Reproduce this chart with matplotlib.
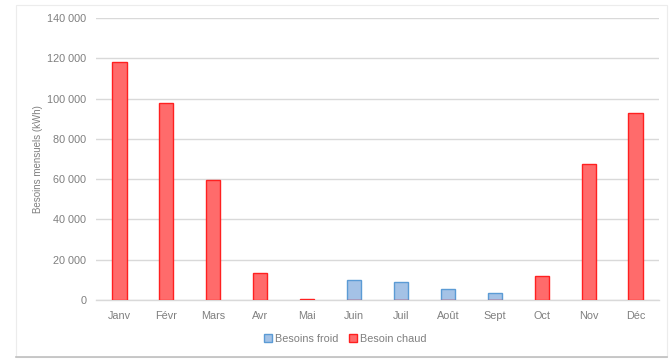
import matplotlib

matplotlib.use("Agg")
import matplotlib.pyplot as plt
from matplotlib.patches import Rectangle
from matplotlib.ticker import FuncFormatter

months = ["Janv", "Févr", "Mars", "Avr", "Mai", "Juin", "Juil", "Août",
          "Sept", "Oct", "Nov", "Déc"]
besoins_froid = [0, 0, 0, 0, 0, 9800, 8900, 5600, 3300, 0, 0, 0]
besoin_chaud = [118000, 98000, 59600, 13200, 600, 0, 0, 0, 0, 11700, 67600, 92700]

_TEXT = "#7f7f7f"
_GRID = "#d9d9d9"
_RED_FILL = "#ff6b6b"
_RED_EDGE = "#ff2020"
_BLUE_FILL = "#a4c2e6"
_BLUE_EDGE = "#5b9bd5"

plt.rcParams["font.family"] = ["Liberation Sans", "DejaVu Sans"]

fig = plt.figure(figsize=(6.71, 3.59), dpi=100, facecolor="white")
ax = fig.add_axes([0.1431, 0.1643, 0.8390, 0.7856])

x = list(range(len(months)))
w = 0.3
ax.bar(x, besoins_froid, width=w, color=_BLUE_FILL, edgecolor=_BLUE_EDGE,
       linewidth=1.0, label="Besoins froid", zorder=3)
ax.bar(x, besoin_chaud, width=w, color=_RED_FILL, edgecolor=_RED_EDGE,
       linewidth=1.0, label="Besoin chaud", zorder=3)

ax.set_xlim(-0.5, len(months) - 0.5)
ax.set_ylim(0, 140000)
ax.set_yticks(range(0, 140001, 20000))
ax.yaxis.set_major_formatter(
    FuncFormatter(lambda v, _: f"{int(v):,}".replace(",", " ")))
ax.set_xticks(x)
ax.set_xticklabels(months)

for s in ("top", "right", "left"):
    ax.spines[s].set_visible(False)
ax.spines["bottom"].set_color(_GRID)
ax.spines["bottom"].set_linewidth(1.0)
ax.grid(True, axis="y", color=_GRID, linewidth=1.0, zorder=0)
ax.tick_params(length=0, colors=_TEXT, labelsize=7.8)
ax.tick_params(axis="y", pad=7)
ax.tick_params(axis="x", pad=8)

ax.set_ylabel("Besoins mensuels (kWh)", color=_TEXT, fontsize=7, labelpad=3)

leg = fig.legend(loc="center", bbox_to_anchor=(0.515, 0.056), ncol=2,
                 frameon=False, fontsize=7.8, handlelength=0.7,
                 handleheight=0.7, handletextpad=0.3, columnspacing=1.0)
for t in leg.get_texts():
    t.set_color(_TEXT)

# cadre du graphique
fig.patches.append(Rectangle((0.024, 0.006), 0.97, 0.98, transform=fig.transFigure,
                             fill=False, edgecolor="#ececec", linewidth=0.8))
fig.add_artist(plt.Line2D([0.024, 0.994], [0.006, 0.006], transform=fig.transFigure,
                          color="#bfbfbf", linewidth=1.2))

fig.savefig("out.png", dpi=100, facecolor="white")
